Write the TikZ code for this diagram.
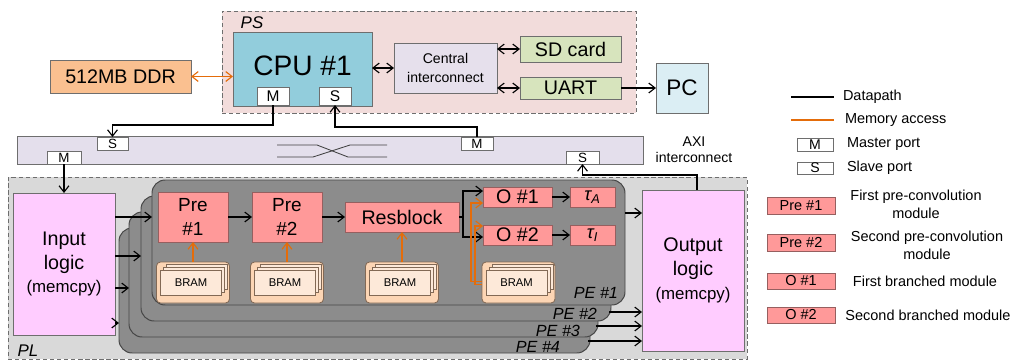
\documentclass[tikz,border=0pt]{standalone}
\usepackage{fontspec}
\setmainfont{Liberation Sans}
\usetikzlibrary{arrows.meta,calc}
\definecolor{psfill}{RGB}{242,220,219}
\definecolor{plfill}{RGB}{217,217,217}
\definecolor{cpufill}{RGB}{146,205,220}
\definecolor{ddrfill}{RGB}{250,192,144}
\definecolor{cifill}{RGB}{230,224,236}
\definecolor{greenfill}{RGB}{215,228,189}
\definecolor{pcfill}{RGB}{219,238,244}
\definecolor{axifill}{RGB}{228,223,236}
\definecolor{logicfill}{RGB}{255,204,255}
\definecolor{pefill}{RGB}{140,140,140}
\definecolor{pedraw}{RGB}{70,70,70}
\definecolor{modfill}{RGB}{255,153,153}
\definecolor{moddraw}{RGB}{150,95,95}
\definecolor{bramframe}{RGB}{252,213,180}
\definecolor{bramfill}{RGB}{253,233,217}
\definecolor{bramdraw}{RGB}{130,105,85}
\definecolor{memorange}{RGB}{228,108,10}
\definecolor{bordergray}{RGB}{110,110,110}
\newcommand{\fs}[2]{\fontsize{#1}{#2}\selectfont}
\tikzset{
  wh/.style 2 args={minimum width=#1*0.025cm, minimum height=#2*0.025cm},
  bx/.style={draw=bordergray, line width=0.6pt},
  region/.style={draw=bordergray, line width=0.7pt, dash pattern=on 3pt off 2pt},
  port/.style={bx, fill=white, font=\fs{9.5}{11}},
  modbox/.style={draw=moddraw, line width=0.6pt, fill=modfill},
  pebox/.style={draw=pedraw, line width=0.7pt, fill=pefill, rounded corners=0.33cm},
  pelbl/.style={font=\fs{11.5}{13}\itshape},
  frame/.style={draw=bramdraw, line width=0.6pt, fill=bramframe, rounded corners=0.1cm},
  bramlayer/.style={draw=bramdraw, line width=0.5pt, fill=bramfill, minimum width=1.525cm, minimum height=0.625cm},
  arr/.style={-{Straight Barb[length=4.5pt,width=7pt]}, line width=0.8pt},
  darr/.style={{Straight Barb[length=4.5pt,width=7pt]}-{Straight Barb[length=4.5pt,width=7pt]}, line width=0.8pt},
  marr/.style={arr, draw=memorange},
  mdarr/.style={darr, draw=memorange},
  lgtext/.style={font=\fs{10.3}{12.8}, align=center}
}
\begin{document}
\begin{tikzpicture}[x=0.025cm,y=-0.025cm]
\tikzset{every node/.style={inner sep=0pt, outer sep=0pt}}
\useasboundingbox (0,0) rectangle (1014,363);

% ---------- PS region ----------
\node[region, fill=psfill, wh={414}{102}] (ps) at (429,62) {};
\node[font=\fs{12}{14}\itshape] (pslbl) at (252,23) {PS};
\node[bx, fill=cpufill, wh={139}{74}] (cpu) at (302.5,69) {};
\node[font=\fs{20}{24}] (cputxt) at (302.5,66) {CPU \#1};
\node[port, wh={32}{18}, font=\fs{11}{13}] (cpuM) at (273,96) {M};
\node[port, wh={32}{18}, font=\fs{11}{13}] (cpuS) at (335,96) {S};
\node[bx, fill=ddrfill, wh={141}{33}, font=\fs{14}{17}] (ddr) at (120.5,76.5) {512MB DDR};
\node[bx, fill=cifill, wh={103}{50}, font=\fs{10}{13}, align=center] (ci) at (445.5,68) {Central\\interconnect};
\node[bx, fill=greenfill, wh={101}{26}, font=\fs{14}{17}] (sd) at (570.5,49) {SD card};
\node[bx, fill=greenfill, wh={101}{22}, font=\fs{14}{17}] (uart) at (570.5,88) {UART};
\node[bx, fill=pcfill, wh={52}{50}, font=\fs{16}{19}] (pc) at (682,88) {PC};

% ---------- AXI interconnect ----------
\node[bx, fill=axifill, wh={626}{28}] (axi) at (330,150) {};
\node[font=\fs{10}{11.5}, align=center] (axitxt) at (694,150) {AXI\\interconnect};
\node[port, wh={31}{13}] (axiS1) at (112.5,143.5) {S};
\node[port, wh={34}{13}] (axiM1) at (64,157.5) {M};
\node[port, wh={32}{13}] (axiM2) at (477,143.5) {M};
\node[port, wh={33}{13}] (axiS2) at (582.5,157.5) {S};
\draw[line width=0.6pt, draw=black!75] (277,145) -- (317,145) -- (348,157) -- (387,157);
\draw[line width=0.6pt, draw=black!75] (277,157) -- (313,157) -- (350,145) -- (387,145);

% ---------- PL region ----------
\node[region, fill=plfill, wh={739}{182}] (pl) at (377.5,268) {};
\node[font=\fs{12}{14}\itshape] (pllbl) at (28,351) {PL};
\node[bx, fill=logicfill, wh={102}{142}, font=\fs{14}{17}, align=center] (input) at (64,264) {Input\\logic\\{\fs{12}{17}(memcpy)}};
\node[bx, fill=logicfill, wh={102}{161}, font=\fs{14}{17}, align=center] (output) at (693,270.5) {Output\\logic\\{\fs{12}{17}(memcpy)}};

% PEs
\node[pebox, wh={471}{125}] (pe4) at (354.5,290.5) {};
\node[pebox, wh={469}{125}] (pe3) at (363.5,274.5) {};
\node[pebox, wh={470}{125}] (pe2) at (376,258.5) {};
\node[pebox, wh={473}{125}] (pe1) at (388.5,242.5) {};
\node[pelbl, anchor=east] (pe1lbl) at (618,293) {PE \#1};
\node[pelbl, anchor=east] (pe2lbl) at (597,314) {PE \#2};
\node[pelbl, anchor=east] (pe3lbl) at (580,331) {PE \#3};
\node[pelbl, anchor=east] (pe4lbl) at (560,347) {PE \#4};

% modules
\node[modbox, wh={70}{50}, font=\fs{13.5}{17}, align=center] (pre1) at (193,217) {Pre\\\#1};
\node[modbox, wh={70}{50}, font=\fs{13.5}{17}, align=center] (pre2) at (287,217) {Pre\\\#2};
\node[modbox, wh={114}{30}, font=\fs{14}{17}] (res) at (402,217) {Resblock};
\node[modbox, wh={69}{20}, font=\fs{14}{17}] (o1) at (517.5,197) {O \#1};
\node[modbox, wh={69}{20}, font=\fs{14}{17}] (o2) at (517.5,235) {O \#2};
\node[modbox, wh={45}{20}, font=\fs{13}{15}\itshape] (tA) at (592.5,197) {τ\textsubscript{A}};
\node[modbox, wh={45}{20}, font=\fs{13}{15}\itshape] (tI) at (592.5,235) {τ\textsubscript{I}};

% BRAM stacks
\foreach \n/\cx in {bra/193, brb/287, brc/402, brd/518.5}{
  \node[frame, wh={73}{41}] (\n) at (\cx,282.5) {};
  \node[bramlayer] (\n3) at (\cx+4,276.5) {};
  \node[bramlayer] (\n2) at (\cx+1,279.5) {};
  \node[bramlayer, font=\fs{8}{10}] (\n1) at (\cx-2,282.5) {BRAM};
}

% ---------- connectors ----------
\draw[mdarr] (ddr.east) -- (ddr.east -| cpu.west);
\draw[darr] (ci.west -| cpu.east) -- (ci.west);
\draw[darr] (ci.east |- sd.west) -- (sd.west);
\draw[darr] (ci.east |- uart.west) -- (uart.west);
\draw[arr] (uart.east) -- (uart.east -| pc.west);
\draw[arr] (cpuM.south) -- ++(0,20) -| (axiS1.north);
\draw[arr] (axiM2.north) -- ++(0,-10) -| (cpuS.south);
\draw[arr] (axiM1.south) -- (axiM1.south |- input.north);
\draw[arr] ($(output.north)+(4,0)$) -- ++(0,-15) -| (axiS2.south);

\coordinate (yin2) at (0,256);
\coordinate (yin3) at (0,288);
\coordinate (yin4) at (0,323);
\coordinate (yo1) at (0,213);
\coordinate (yo2) at (0,312);
\coordinate (yo3) at (0,326);
\coordinate (yo4) at (0,341);
\draw[arr] (input.east |- pre1.west) -- (pe1.west |- pre1.west);
\draw[arr] (input.east |- yin2) -- (pe2.west |- yin2);
\draw[arr] (input.east |- yin3) -- (pe3.west |- yin3);
\draw[arr] (input.east |- yin4) -- (pe4.west |- yin4);
\draw[arr] (pe1.east |- yo1) -- (output.west |- yo1);
\draw[arr] ($(pe2.east |- yo2)+(-2,0)$) -- (output.west |- yo2);
\draw[arr] ($(pe3.east |- yo3)+(-2,0)$) -- (output.west |- yo3);
\draw[arr] ($(pe4.east |- yo4)+(-2,0)$) -- (output.west |- yo4);

\draw[arr] (pre1.east) -- (pre2.west);
\draw[arr] (pre2.east) -- (res.west);
\coordinate (fork) at ($(res.east)+(4,0)$);
\draw[line width=0.8pt] (res.east) -- (fork);
\draw[arr] (fork) |- ($(o1.west)+(0,-6)$);
\draw[arr] (fork) |- ($(o2.west)+(0,2)$);
\draw[arr] (o1.east) -- (tA.west);
\draw[arr] (o2.east) -- (tI.west);

\draw[marr] (bra.north) -- (pre1.south);
\draw[marr] (brb.north) -- (pre2.south);
\draw[marr] (brc.north) -- (res.south);
\draw[marr] ($(brd.west)+(0,-1)$) -- ++(-11,0) |- ($(o1.west)+(0,6)$);
\draw[marr] ($(brd.west)+(0,2)$) -- ++(-7,0) |- ($(o2.west)+(0,-9)$);

% ---------- legend ----------
\coordinate (lg1a) at (791,97);
\coordinate (lg1b) at (834,97);
\coordinate (lg2a) at (791,120);
\coordinate (lg2b) at (834,120);
\draw[line width=0.9pt] (lg1a) -- (lg1b);
\draw[line width=0.9pt, draw=memorange] (lg2a) -- (lg2b);
\node[lgtext, anchor=west] (lgt1) at (843,97) {Datapath};
\node[lgtext, anchor=west] (lgt2) at (845,120) {Memory access};
\node[port, wh={36}{13}, font=\fs{10}{12}] (lgM) at (815,144.5) {M};
\node[lgtext, anchor=west] (lgt3) at (847,144.5) {Master port};
\node[port, wh={36}{12}, font=\fs{10}{12}] (lgS) at (815,168) {S};
\node[lgtext, anchor=west] (lgt4) at (847,168) {Slave port};
\node[modbox, wh={68}{17}, font=\fs{10.3}{12}] (lgP1) at (801,205.5) {Pre \#1};
\node[lgtext] (lgt5) at (916,204) {First pre-convolution\\module};
\node[modbox, wh={68}{17}, font=\fs{10.3}{12}] (lgP2) at (801,242.5) {Pre \#2};
\node[lgtext] (lgt6) at (927,245) {Second pre-convolution\\module};
\node[modbox, wh={68}{16}, font=\fs{10.3}{12}] (lgO1) at (801,281) {O \#1};
\node[lgtext] (lgt7) at (925,281) {First branched module};
\node[modbox, wh={68}{16}, font=\fs{10.3}{12}] (lgO2) at (801,315) {O \#2};
\node[lgtext] (lgt8) at (928,315) {Second branched module};
\end{tikzpicture}
\end{document}
